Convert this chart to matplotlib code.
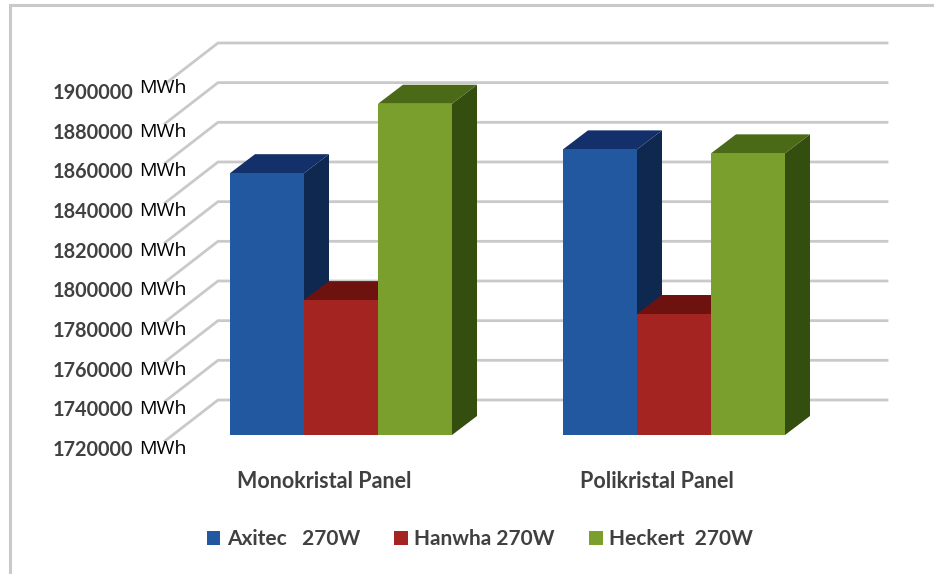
import matplotlib
matplotlib.use('Agg')
import matplotlib.pyplot as plt
from matplotlib.patches import Patch, Polygon, Rectangle

#-------------------------data----------------------------------------
categories = ['Monokristal Panel', 'Polikristal Panel']
series_names = ['Axitec   270W', 'Hanwha 270W', 'Heckert  270W']
axitec = [1852000, 1864000]
hanwha = [1788000, 1781000]
heckert = [1887000, 1862000]
tick_values = [1720000, 1740000, 1760000, 1780000, 1800000,
               1820000, 1840000, 1860000, 1880000, 1900000]
unit = 'MWh'
#-------------------------data----------------------------------------

front_cols = ['#22589f', '#a32420', '#7a9f2c']
top_cols = ['#14306a', '#6e1210', '#4a6a18']
side_cols = ['#0f2850', '#6e1210', '#344e10']
text_col = '#404040'
grid_col = '#c9c9c9'

W, H = 934, 574
px_val = 20000 / 39.67   # value per pixel
px_cat = 1 / 333.0       # category per pixel
base = 1720000

fig = plt.figure(figsize=(W / 100, H / 100), dpi=100)
ax = fig.add_axes([0, 0, 1, 1])
ax.set_xlim(-341 * px_cat, (W - 341) * px_cat)
ax.set_ylim(base - (H - 435) * px_val, base + 435 * px_val)
ax.axis('off')

# outer frame
ax.plot([10 / W, 10 / W, 1], [0, 1 - 5 / H, 1 - 5 / H], transform=ax.transAxes,
        color=grid_col, lw=2.2, solid_joinstyle='miter')

# gridlines with the sloped part on the wall
wall_dy = 35 * px_val
for v in tick_values:
    x0 = 165 - 341
    x1 = 218 - 341
    x2 = 887 - 341
    ax.plot([x0 * px_cat, x1 * px_cat, x2 * px_cat],
            [v + (wall_dy - 41 * px_val), v + wall_dy, v + wall_dy],
            color=grid_col, lw=2, zorder=1)
    ax.text((133 - 341) * px_cat, v - 15 * px_val, str(v), ha='right', va='center',
            fontsize=14.3, color=text_col, family='Lato', fontweight='bold', zorder=5)
    # the top unit label sits a little higher in the original
    unit_dy = 10 if v == tick_values[-1] else 14
    ax.text((139 - 341) * px_cat, v - unit_dy * px_val, unit, ha='left', va='center',
            fontsize=14, color='black', family='Open Sans', zorder=5)

# bars, left to right so the next bar hides the side of the previous one
bar_w = 74 * px_cat
dx = 25 * px_cat
dy = 19 * px_val
values = [axitec, hanwha, heckert]
for c in range(len(categories)):
    for s in range(3):
        v = values[s][c]
        left = c + (s - 1.5) * bar_w
        right = left + bar_w
        ax.add_patch(Polygon([(right, base), (right + dx, base + dy), (right + dx, v + dy), (right, v)],
                             facecolor=side_cols[s], edgecolor='none', zorder=3))
        ax.add_patch(Polygon([(left, v), (left + dx, v + dy), (right + dx, v + dy), (right, v)],
                             facecolor=top_cols[s], edgecolor='none', zorder=3))
        ax.add_patch(Rectangle((left, base), bar_w, v - base, facecolor=front_cols[s],
                               edgecolor='none', zorder=3))
    ax.text(c - 17 * px_cat, base - 46 * px_val, categories[c], ha='center', va='center',
            fontsize=15.5, color=text_col, family='Lato', fontweight='bold')

handles = [Patch(facecolor=front_cols[i], edgecolor='none') for i in range(3)]
ax.legend(handles, series_names, ncol=3, frameon=False, loc='center',
          bbox_to_anchor=(480 / W, 1 - 539 / H), bbox_transform=ax.transAxes,
          prop={'family': 'Lato', 'weight': 'bold', 'size': 15}, labelcolor=text_col,
          handlelength=0.66, handleheight=0.66, handletextpad=0.3, columnspacing=1.65)

fig.savefig('out.png', dpi=100)
